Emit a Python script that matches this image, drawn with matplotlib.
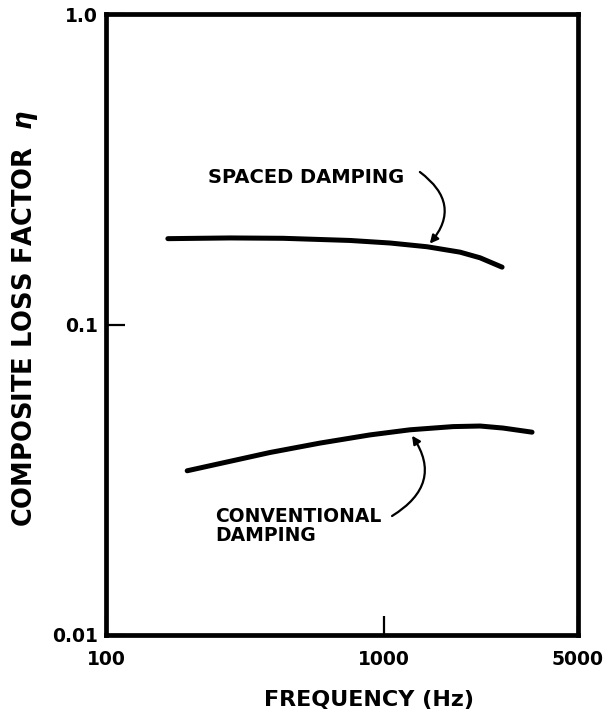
import numpy as np
import matplotlib
matplotlib.use("Agg")
import matplotlib.pyplot as plt

# ---- data ----
spaced_freq = [167, 280, 434, 755, 1053, 1431, 1881, 2220, 2665]
spaced_eta = [0.189, 0.190, 0.1895, 0.1865, 0.183, 0.178, 0.171, 0.164, 0.153]

conv_freq = [196, 389, 589, 892, 1242, 1775, 2220, 2686, 3416]
conv_eta = [0.0338, 0.0387, 0.0415, 0.0441, 0.0458, 0.0469, 0.0471, 0.0464, 0.0450]

x_ticks = [100, 1000, 5000]
x_ticklabels = ["100", "1000", "5000"]
y_ticks = [0.01, 0.1, 1.0]
y_ticklabels = ["0.01", "0.1", "1.0"]

spaced_label = "SPACED DAMPING"
conv_label = "CONVENTIONAL\nDAMPING"
xlabel = "FREQUENCY (Hz)"
ylabel = r"COMPOSITE LOSS FACTOR  $\eta$"

# annotation anchor frequencies (arrow tips lie on the curves)
spaced_tip_f = 1431
conv_tip_f = 1222

plt.rcParams['font.family'] = ['DejaVu Sans']
plt.rcParams['font.weight'] = 'bold'
plt.rcParams['mathtext.fontset'] = 'dejavusans'

fig = plt.figure(figsize=(6.10, 7.19), dpi=100)
ax = fig.add_axes([106/610, 1 - 635/719, 472/610, 621/719])

ax.plot(spaced_freq, spaced_eta, color='black', lw=3.6, solid_capstyle='round', solid_joinstyle='round')
ax.plot(conv_freq, conv_eta, color='black', lw=3.6, solid_capstyle='round', solid_joinstyle='round')

ax.set_xscale('log')
ax.set_yscale('log')
ax.set_xlim(100, 5000)
ax.set_ylim(0.01, 1.0)

ax.xaxis.set_minor_locator(matplotlib.ticker.NullLocator())
ax.yaxis.set_minor_locator(matplotlib.ticker.NullLocator())
ax.set_xticks(x_ticks)
ax.set_xticklabels(x_ticklabels)
ax.set_yticks(y_ticks)
ax.set_yticklabels(y_ticklabels)
ax.tick_params(axis='both', direction='in', length=14, width=1.6, labelsize=13.5, color='black')
ax.tick_params(axis='x', pad=11)
ax.tick_params(axis='y', pad=6)
for lab in ax.get_xticklabels() + ax.get_yticklabels():
    lab.set_fontweight('bold')

for sp in ax.spines.values():
    sp.set_linewidth(3.4)
    sp.set_color('black')

ax.set_xlabel(xlabel, fontsize=16, fontweight='bold')
ax.xaxis.set_label_coords(0.557, -0.105)
ax.xaxis.label.set_va('center')
ax.set_ylabel(ylabel, fontsize=18.5, fontweight='bold')
ax.yaxis.set_label_coords(-0.172, 0.51)
ax.yaxis.label.set_va('center')

# annotations
ax.text(0.216, 0.736, spaced_label, transform=ax.transAxes, fontsize=14,
        fontweight='bold', ha='left', va='center')
ax.text(0.231, 0.1755, conv_label, transform=ax.transAxes, fontsize=13.5,
        fontweight='bold', ha='left', va='center', linespacing=1.05)

def curve_at(f, fs, es):
    return 10 ** np.interp(np.log10(f), np.log10(fs), np.log10(es))

ax.annotate('', xy=(spaced_tip_f, curve_at(spaced_tip_f, spaced_freq, spaced_eta)),
            xycoords='data', xytext=(0.665, 0.7456), textcoords='axes fraction',
            arrowprops=dict(arrowstyle='-|>', color='black', lw=1.6, mutation_scale=12,
                            connectionstyle='arc3,rad=-0.55', shrinkA=0, shrinkB=3))
ax.annotate('', xy=(conv_tip_f, curve_at(conv_tip_f, conv_freq, conv_eta)),
            xycoords='data', xytext=(0.606, 0.1916), textcoords='axes fraction',
            arrowprops=dict(arrowstyle='-|>', color='black', lw=1.6, mutation_scale=12,
                            connectionstyle='arc3,rad=0.55', shrinkA=0, shrinkB=5))

fig.savefig('out.png', dpi=100, facecolor='white')
